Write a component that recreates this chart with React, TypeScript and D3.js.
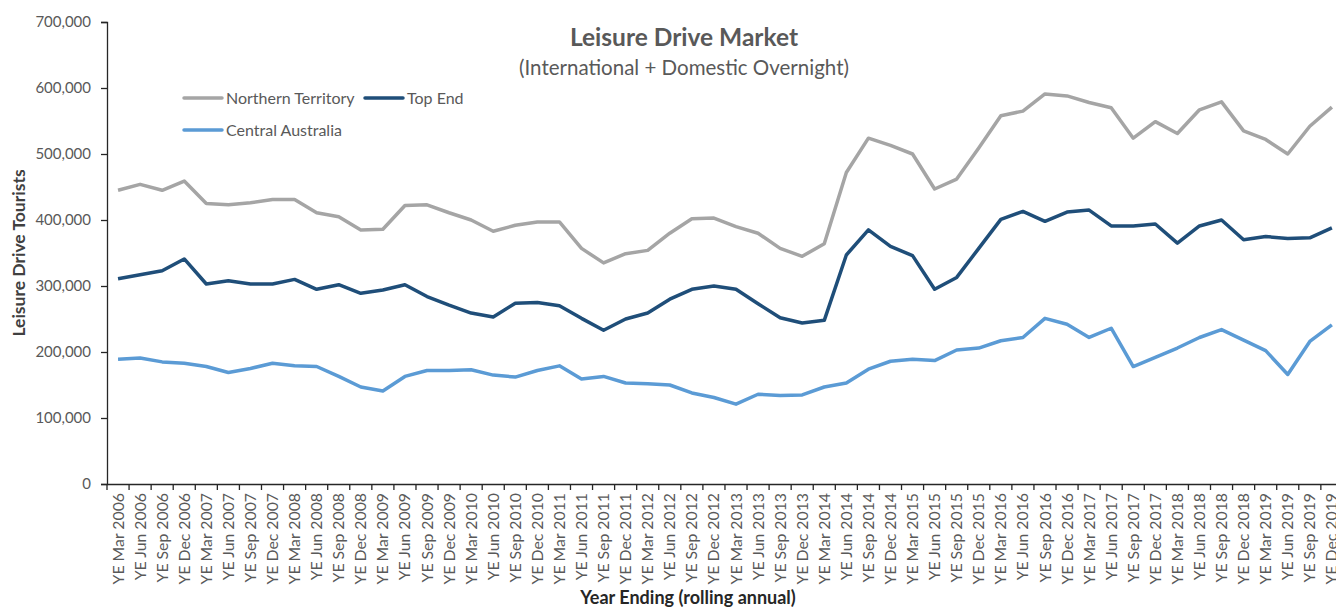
import { useEffect, useRef } from 'react';
import * as d3 from 'd3';

const quarters = ['Mar', 'Jun', 'Sep', 'Dec'];
const years = [2006, 2007, 2008, 2009, 2010, 2011, 2012, 2013, 2014, 2015, 2016, 2017, 2018, 2019];
const categories = years.flatMap(y => quarters.map(q => `YE ${q} ${y}`));

const northernTerritory = [
  445000, 454000, 445000, 459000, 425000, 423000, 426000, 431000, 431000, 411000,
  405000, 385000, 386000, 422000, 423000, 411000, 400000, 383000, 392000, 397000,
  397000, 357000, 335000, 349000, 354000, 380000, 402000, 403000, 390000, 380000,
  357000, 345000, 364000, 472000, 524000, 513000, 500000, 447000, 462000, 509000,
  558000, 565000, 591000, 588000, 578000, 570000, 524000, 549000, 531000, 567000,
  579000, 535000, 522000, 500000, 542000, 571000,
];

const topEnd = [
  311000, 317000, 323000, 341000, 303000, 308000, 303000, 303000, 310000, 295000,
  302000, 289000, 294000, 302000, 284000, 271000, 259000, 253000, 274000, 275000,
  270000, 251000, 233000, 250000, 259000, 280000, 295000, 300000, 295000, 273000,
  252000, 244000, 248000, 347000, 385000, 360000, 346000, 295000, 313000, 357000,
  401000, 413000, 398000, 412000, 415000, 391000, 391000, 394000, 365000, 391000,
  400000, 370000, 375000, 372000, 373000, 388000,
];

const centralAustralia = [
  189000, 191000, 185000, 183000, 178000, 169000, 175000, 183000, 179000, 178000,
  163000, 147000, 141000, 163000, 172000, 172000, 173000, 165000, 162000, 172000,
  179000, 159000, 163000, 153000, 152000, 150000, 138000, 131000, 121000, 136000,
  134000, 135000, 147000, 153000, 174000, 186000, 189000, 187000, 203000, 206000,
  217000, 222000, 251000, 242000, 222000, 236000, 178000, 192000, 206000, 222000,
  234000, 218000, 202000, 166000, 216000, 241000,
];

const yTicks = [0, 100000, 200000, 300000, 400000, 500000, 600000, 700000];

const series = [
  { name: 'Northern Territory', color: '#A5A5A5', values: northernTerritory },
  { name: 'Top End', color: '#1F4E79', values: topEnd },
  { name: 'Central Australia', color: '#5B9BD5', values: centralAustralia },
];

const FONT = 'Lato, "Open Sans", sans-serif';

const App = () => {
  const svgRef = useRef<SVGSVGElement | null>(null);

  useEffect(() => {
    const width = 1336;
    const height = 608;
    const svg = d3.select(svgRef.current);
    svg.selectAll('*').remove();

    const left = 107;
    const top = 22;
    const bottom = 484;
    const step = 22.07;

    const x = d3.scaleBand<string>()
      .domain(categories)
      .range([left, left + step * categories.length]);
    const y = d3.scaleLinear().domain([0, 700000]).range([bottom, top]);

    svg.attr('width', width).attr('height', height)
      .style('font-family', FONT);

    // Titles
    svg.append('text')
      .attr('x', 684).attr('y', 46)
      .attr('text-anchor', 'middle')
      .attr('fill', '#595959')
      .style('font-size', '24.5px').style('font-weight', 700)
      .text('Leisure Drive Market');
    svg.append('text')
      .attr('x', 684).attr('y', 75)
      .attr('text-anchor', 'middle')
      .attr('fill', '#595959')
      .style('font-size', '20.5px')
      .text('(International + Domestic Overnight)');

    // Y axis
    const yAxis = svg.append('g')
      .attr('transform', `translate(${left},0)`)
      .call(d3.axisLeft(y).tickValues(yTicks).tickSize(6).tickPadding(10).tickFormat(d3.format(',')));
    yAxis.select('.domain').attr('stroke', '#262626').attr('stroke-width', 1.3);
    yAxis.selectAll('.tick line').attr('stroke', '#262626').attr('stroke-width', 1.3);
    yAxis.selectAll('.tick text')
      .attr('fill', '#595959')
      .style('font-family', FONT)
      .style('font-size', '15px');

    // X axis
    const xAxis = svg.append('g')
      .attr('transform', `translate(0,${bottom})`)
      .call(d3.axisBottom(x).tickSize(0).tickSizeOuter(0));
    xAxis.select('.domain').attr('stroke', '#262626').attr('stroke-width', 1.3);
    xAxis.selectAll('.tick text')
      .attr('fill', '#595959')
      .style('font-family', FONT)
      .style('font-size', '15.8px')
      .attr('text-anchor', 'end')
      .attr('transform', 'rotate(-90)')
      .attr('x', -9)
      .attr('y', 0)
      .attr('dy', '0.35em');
    // tick marks on band boundaries
    xAxis.append('g')
      .selectAll('line')
      .data(categories.concat(['__end']))
      .join('line')
      .attr('x1', (d, i) => left + i * x.step())
      .attr('x2', (d, i) => left + i * x.step())
      .attr('y1', 0).attr('y2', 6)
      .attr('stroke', '#262626').attr('stroke-width', 1.3);

    // Axis titles
    svg.append('text')
      .attr('transform', `translate(25,${(top + bottom) / 2}) rotate(-90)`)
      .attr('text-anchor', 'middle')
      .attr('fill', '#404040')
      .style('font-size', '17.5px').style('font-weight', 700)
      .text('Leisure Drive Tourists');
    svg.append('text')
      .attr('x', 688).attr('y', 604)
      .attr('text-anchor', 'middle')
      .attr('fill', '#262626')
      .style('font-size', '18px').style('font-weight', 700)
      .text('Year Ending (rolling annual)');

    // Lines
    const line = d3.line<number>()
      .x((d, i) => (x(categories[i]) ?? 0) + x.bandwidth() / 2)
      .y(d => y(d));

    svg.append('g')
      .selectAll('path')
      .data(series)
      .join('path')
      .attr('fill', 'none')
      .attr('stroke', d => d.color)
      .attr('stroke-width', 3.5)
      .attr('stroke-linejoin', 'round')
      .attr('d', d => line(d.values));

    // Legend
    const legendItems = [
      { s: series[0], lx: 184, ly: 98 },
      { s: series[1], lx: 365, ly: 98 },
      { s: series[2], lx: 184, ly: 130 },
    ];
    const legend = svg.append('g')
      .selectAll('g')
      .data(legendItems)
      .join('g')
      .attr('transform', d => `translate(${d.lx},${d.ly})`);
    legend.append('line')
      .attr('x1', 0).attr('x2', 38)
      .attr('stroke', d => d.s.color)
      .attr('stroke-width', 3.5)
      .attr('stroke-linecap', 'round');
    legend.append('text')
      .attr('x', 42).attr('dy', '0.35em')
      .attr('fill', '#595959')
      .style('font-size', '16px')
      .text(d => d.s.name);
  }, []);

  return (
    <div style={{ position: 'absolute', left: 0, top: 0, width: 1336, height: 608, overflow: 'hidden', background: '#fff' }}>
      <svg ref={svgRef} style={{ display: 'block' }}></svg>
    </div>
  );
};

export default App;
